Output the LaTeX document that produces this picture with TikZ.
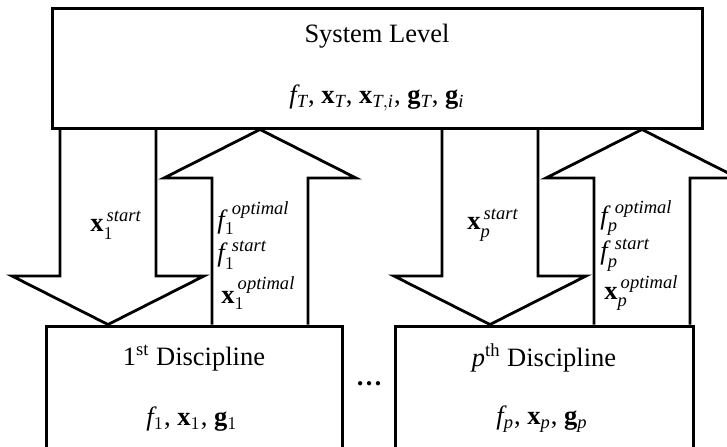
\documentclass[tikz,border=0pt]{standalone}
\usepackage{amsmath}
\usepackage{fontspec}
\setmainfont{Liberation Serif}
\usepackage{tikz}
\usetikzlibrary{calc}

\begin{document}
\begin{tikzpicture}[
  x=0.5pt, y=0.5pt,
  font=\fontsize{13.25}{16}\selectfont,
  box/.style={draw, line width=1.5pt, inner sep=0pt},
  fat/.style={draw, line width=1.4pt, line join=miter},
  txt/.style={inner sep=0pt},
  lbl/.style={anchor=west, inner sep=0pt}
]
\useasboundingbox (0,0) rectangle (727,446);

% boxes
\node[box, minimum width=325pt, minimum height=60pt] (sys) at (377,378) {};
\node[box, minimum width=148pt, minimum height=63pt] (d1) at (194,57) {};
\node[box, minimum width=149pt, minimum height=63pt] (dp) at (544,57) {};

\node[txt] (sysname) at (377,410) {System Level};
\node[txt] (sysvars) at (377,348) {$\mathit{f}_{\mathit{T}}$, $\mathbf{x}_{\mathit{T}}$, $\mathbf{x}_{\mathit{T,i}}$, $\mathbf{g}_{\mathit{T}}$, $\mathbf{g}_{\mathit{i}}$};
\node[txt] (d1name) at (194,88) {1\textsuperscript{st} Discipline};
\node[txt] (d1vars) at (192,27) {$\mathit{f}_{1}$, $\mathbf{x}_{1}$, $\mathbf{g}_{1}$};
\node[txt] (dpname) at (544,88) {\textit{p}\textsuperscript{th} Discipline};
\node[txt] (dpvars) at (542,27) {$\mathit{f}_{\mathit{p}}$, $\mathbf{x}_{\mathit{p}}$, $\mathbf{g}_{\mathit{p}}$};
\node[txt] (dots) at (369,62) {\textbf{\dots}};

% fat arrows
\draw[fat] (60,0 |- sys.south) -- (60,170) -- (12,170) -- (108,0 |- d1.north)
  -- (204,170) -- (156,170) -- (156,0 |- sys.south);
\draw[fat] (212,0 |- d1.north) -- (212,268) -- (164,268) -- (260,0 |- sys.south)
  -- (356,268) -- (308,268) -- (308,0 |- d1.north);
\draw[fat] (442,0 |- sys.south) -- (442,170) -- (394,170) -- (490,0 |- dp.north)
  -- (586,170) -- (538,170) -- (538,0 |- sys.south);
\draw[fat] (594,0 |- dp.north) -- (594,268) -- (546,268) -- (642,0 |- sys.south)
  -- (738,268) -- (690,268) -- (690,0 |- dp.north);

% labels
\node[lbl] (x1s) at (90,221) {$\mathbf{x}_{1}^{\mkern3mu\mathit{start}}$};
\node[lbl] (f1o) at (217,228) {$\mathit{f}_{1}^{\mkern7mu\mathit{optimal}}$};
\node[lbl] (f1s) at (217,191) {$\mathit{f}_{1}^{\mkern7mu\mathit{start}}$};
\node[lbl] (x1o) at (221,153) {$\mathbf{x}_{1}^{\mkern3mu\mathit{optimal}}$};
\node[lbl] (xps) at (467,221) {$\mathbf{x}_{\mathit{p}}^{\mkern3mu\mathit{start}}$};
\node[lbl] (fpo) at (600,228) {$\mathit{f}_{\mathit{p}}^{\mkern7mu\mathit{optimal}}$};
\node[lbl] (fps) at (600,191) {$\mathit{f}_{\mathit{p}}^{\mkern7mu\mathit{start}}$};
\node[lbl] (xpo) at (604,153) {$\mathbf{x}_{\mathit{p}}^{\mkern3mu\mathit{optimal}}$};
\end{tikzpicture}
\end{document}
